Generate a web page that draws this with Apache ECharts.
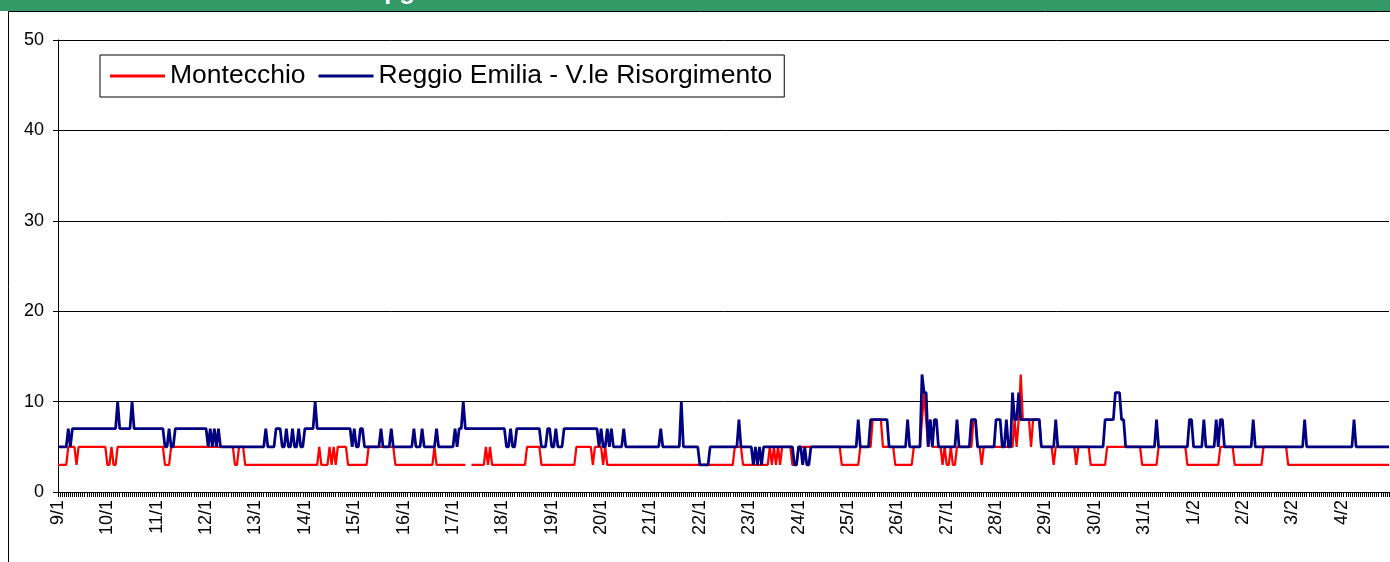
<!DOCTYPE html>
<html><head><meta charset="utf-8">
<script src="https://cdn.jsdelivr.net/npm/echarts@6/dist/echarts.min.js"></script>
<style>html,body{margin:0;padding:0;background:#fff}#c{width:1390px;height:562px}</style>
</head><body><div id="c"></div>
<script>
const days = ['9/1','10/1','11/1','12/1','13/1','14/1','15/1','16/1','17/1','18/1','19/1','20/1','21/1','22/1','23/1','24/1','25/1','26/1','27/1','28/1','29/1','30/1','31/1','1/2','2/2','3/2','4/2'];
const hours = ['00','01','02','03','04','05','06','07','08','09','10','11','12','13','14','15','16','17','18','19','20','21','22','23'];
const yMin = 0, yMax = 50, yStep = 10;
const seriesNames = ['Montecchio', 'Reggio Emilia - V.le Risorgimento'];

const montecchio = [
3,3,3,3,3,5,5,5,5,3,5,5,5,5,5,5,5,5,5,5,5,5,5,5,
3,3,5,3,3,5,5,5,5,5,5,5,5,5,5,5,5,5,5,5,5,5,5,5,
5,5,5,5,3,3,3,5,5,5,5,5,5,5,5,5,5,5,5,5,5,5,5,5,
5,5,5,5,5,5,5,5,5,5,5,5,5,5,3,3,5,5,5,3,3,3,3,3,
3,3,3,3,3,3,3,3,3,3,3,3,3,3,3,3,3,3,3,3,3,3,3,3,
3,3,3,3,3,3,3,5,3,3,3,3,5,3,5,3,5,5,5,5,5,3,3,3,
3,3,3,3,3,3,3,5,5,5,5,5,5,5,5,5,5,5,5,5,3,3,3,3,
3,3,3,3,3,3,3,3,3,3,3,3,3,3,3,5,3,3,3,3,3,3,3,3,
3,3,3,3,3,3,3,null,null,3,3,3,3,3,3,3,5,3,5,3,3,3,3,3,
3,3,3,3,3,3,3,3,3,3,3,3,5,5,5,5,5,5,5,3,3,3,3,3,
3,3,3,3,3,3,3,3,3,3,3,3,5,5,5,5,5,5,5,5,3,5,5,5,
5,3,5,3,3,3,3,3,3,3,3,3,3,3,3,3,3,3,3,3,3,3,3,3,
3,3,3,3,3,3,3,3,3,3,3,3,3,3,3,3,3,3,3,3,3,3,3,3,
3,3,3,3,3,3,3,3,3,3,3,3,3,3,3,3,3,5,5,5,5,3,3,3,
3,3,3,3,3,3,3,3,3,3,5,3,5,3,5,3,5,5,5,5,5,3,3,3,
5,5,5,5,5,5,5,5,5,5,5,5,5,5,5,5,5,5,5,5,5,3,3,3,
3,3,3,3,3,3,5,5,5,5,5,5,8,8,8,8,8,5,5,5,5,5,5,3,
3,3,3,3,3,3,3,3,5,5,5,5,8,11,8,5,8,5,5,5,5,5,3,5,
3,3,5,3,3,5,5,5,5,5,5,5,5,8,8,5,5,3,5,5,5,5,5,5,
5,5,5,5,5,5,5,5,5,8,5,8,13,8,8,8,8,5,8,8,8,8,5,5,
5,5,5,5,3,5,5,5,5,5,5,5,5,5,5,3,5,5,5,5,5,5,3,3,
3,3,3,3,3,3,5,5,5,5,5,5,5,5,5,5,5,5,5,5,5,5,5,3,
3,3,3,3,3,3,3,5,5,5,5,5,5,5,5,5,5,5,5,5,5,3,3,3,
3,3,3,3,3,3,3,3,3,3,3,3,3,5,5,5,5,5,5,5,3,3,3,3,
3,3,3,3,3,3,3,3,3,3,5,5,5,5,5,5,5,5,5,5,5,5,3,3,
3,3,3,3,3,3,3,3,3,3,3,3,3,3,3,3,3,3,3,3,3,3,3,3,
3,3,3,3,3,3,3,3,3,3,3,3,3,3,3,3,3,3,3,3,3,3,3,3
];

const reggioEmilia = [
5,5,5,5,5,7,5,7,7,7,7,7,7,7,7,7,7,7,7,7,7,7,7,7,
7,7,7,7,7,10,7,7,7,7,7,7,10,7,7,7,7,7,7,7,7,7,7,7,
7,7,7,7,5,5,7,5,5,7,7,7,7,7,7,7,7,7,7,7,7,7,7,7,
7,5,7,5,7,5,7,5,5,5,5,5,5,5,5,5,5,5,5,5,5,5,5,5,
5,5,5,5,5,7,5,5,5,5,7,7,7,5,5,7,5,5,7,5,5,7,5,5,
7,7,7,7,7,10,7,7,7,7,7,7,7,7,7,7,7,7,7,7,7,7,7,5,
7,5,5,7,7,5,5,5,5,5,5,5,5,7,5,5,5,5,7,5,5,5,5,5,
5,5,5,5,5,7,5,5,5,7,5,5,5,5,5,5,7,5,5,5,5,5,5,5,
5,7,5,7,7,10,7,7,7,7,7,7,7,7,7,7,7,7,7,7,7,7,7,7,
7,7,5,5,7,5,5,7,7,7,7,7,7,7,7,7,7,7,7,5,5,5,7,7,
5,5,7,5,5,5,7,7,7,7,7,7,7,7,7,7,7,7,7,7,7,7,7,5,
7,5,5,7,5,7,5,5,5,5,5,7,5,5,5,5,5,5,5,5,5,5,5,5,
5,5,5,5,5,7,5,5,5,5,5,5,5,5,5,10,5,5,5,5,5,5,5,5,
3,3,3,3,3,5,5,5,5,5,5,5,5,5,5,5,5,5,5,8,5,5,5,5,
5,5,3,5,3,5,3,5,5,5,5,5,5,5,5,5,5,5,5,5,5,5,3,3,
5,5,3,5,3,3,5,5,5,5,5,5,5,5,5,5,5,5,5,5,5,5,5,5,
5,5,5,5,5,8,5,5,5,5,5,8,8,8,8,8,8,8,8,8,5,5,5,5,
5,5,5,5,5,8,5,5,5,5,5,5,13,11,11,5,8,5,8,8,5,5,5,5,
5,5,5,5,5,8,5,5,5,5,5,5,8,8,8,5,5,5,5,5,5,5,5,5,
8,8,8,5,5,8,5,5,11,8,8,11,8,8,8,8,8,8,8,8,8,8,5,5,
5,5,5,5,5,8,5,5,5,5,5,5,5,5,5,5,5,5,5,5,5,5,5,5,
5,5,5,5,5,8,8,8,8,8,11,11,11,8,8,5,5,5,5,5,5,5,5,5,
5,5,5,5,5,5,8,5,5,5,5,5,5,5,5,5,5,5,5,5,5,5,8,8,
5,5,5,5,5,8,5,5,5,5,5,8,5,8,8,5,5,5,5,5,5,5,5,5,
5,5,5,5,5,8,5,5,5,5,5,5,5,5,5,5,5,5,5,5,5,5,5,5,
5,5,5,5,5,5,8,5,5,5,5,5,5,5,5,5,5,5,5,5,5,5,5,5,
5,5,5,5,5,5,8,5,5,5,5,5,5,5,5,5,5,5,5,5,5,5,5,5
];

const categories = [];
days.forEach(d => hours.forEach(h => categories.push(d + ' ' + h)));

const chart = echarts.init(document.getElementById('c'), null, {renderer: 'canvas'});
const FONT = '"Liberation Sans", Arial, sans-serif';
chart.setOption({
  animation: false,
  backgroundColor: '#ffffff',
  textStyle: {fontFamily: FONT},
  graphic: [
    {type: 'rect', z: 100, shape: {x: 0, y: 0, width: 1390, height: 11}, style: {fill: '#339966'}},
    {type: 'text', z: 101, x: 312, y: 5, style: {text: 'SO₂ - µg/m³', fill: '#ffffff', font: 'bold 26px "Liberation Sans", Arial', verticalAlign: 'bottom'}},
    {type: 'rect', z: 102, shape: {x: 8.5, y: 11.5, width: 1400, height: 600}, style: {fill: 'none', stroke: '#000', lineWidth: 1}}
  ],
  grid: {left: 58, right: 1, top: 40, bottom: 70, containLabel: false},
  legend: {
    data: seriesNames,
    left: 100, top: 55,
    icon: 'rect', itemWidth: 55, itemHeight: 3, itemGap: 13,
    padding: [7, 12, 7, 10],
    borderColor: '#000', borderWidth: 1, backgroundColor: '#fff',
    textStyle: {fontSize: 26.5, color: '#000', fontFamily: FONT, lineHeight: 28}
  },
  xAxis: {
    type: 'category', data: categories, boundaryGap: false,
    axisLine: {lineStyle: {color: '#000', width: 1}},
    axisTick: {show: true, interval: 0, length: 5, lineStyle: {color: '#000', width: 1}},
    axisLabel: {interval: 23, rotate: 90, color: '#000', fontSize: 18, margin: 8, fontFamily: FONT,
      formatter: v => v.split(' ')[0]},
    splitLine: {show: false}
  },
  yAxis: {
    type: 'value', min: yMin, max: yMax, interval: yStep,
    axisLine: {show: true, lineStyle: {color: '#000', width: 1}},
    axisTick: {show: true, length: 5, lineStyle: {color: '#000'}},
    axisLabel: {color: '#000', fontSize: 18, margin: 14, fontFamily: FONT},
    splitLine: {show: true, lineStyle: {color: '#000', width: 1}}
  },
  series: [
    {name: seriesNames[0], type: 'line', data: montecchio, symbol: 'none', connectNulls: false,
      lineStyle: {color: '#ff0000', width: 2.25}, itemStyle: {color: '#ff0000'}, z: 2},
    {name: seriesNames[1], type: 'line', data: reggioEmilia, symbol: 'none',
      lineStyle: {color: '#000080', width: 2.75}, itemStyle: {color: '#000080'}, z: 3}
  ]
});
</script></body></html>
